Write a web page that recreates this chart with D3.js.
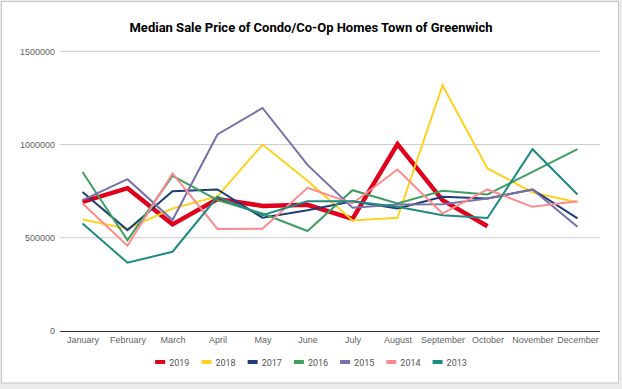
<!DOCTYPE html>
<html>
<head>
<meta charset="utf-8">
<title>Median Sale Price of Condo/Co-Op Homes Town of Greenwich</title>
<script src="https://cdn.jsdelivr.net/npm/d3@7"></script>
<style>
    html, body { margin: 0; padding: 0; background: #ececec; }
    svg { display: block; font-family: Roboto, "Noto Sans", sans-serif; }
</style>
</head>
<body>
<svg id="chart" width="622" height="389"></svg>
<script>
    // values
    var months = ["January", "February", "March", "April", "May", "June", "July",
                  "August", "September", "October", "November", "December"];
    var years = ["2019", "2018", "2017", "2016", "2015", "2014", "2013"];
    var colors = ["#e0001b", "#ffd21f", "#1d3e78", "#3f9e62", "#7671a9", "#ff8a8d", "#1f8a84"];

    var sales2019 = [692000, 766000, 572000, 708000, 671000, 677000, 601000, 1002000, 702000, 562000, null, null];
    var sales2018 = [598000, 548000, 657000, 722000, 1000000, 806000, 593000, 607000, 1318000, 872000, 743000, 690000];
    var sales2017 = [746000, 541000, 750000, 759000, 607000, 648000, 696000, 657000, 720000, 711000, 759000, 604000];
    var sales2016 = [853000, 487000, 832000, 702000, 630000, 536000, 755000, 684000, 752000, 732000, 853000, 975000];
    var sales2015 = [702000, 814000, 595000, 1054000, 1196000, 891000, 661000, 679000, 680000, 710000, 759000, 559000];
    var sales2014 = [684000, 457000, 845000, 547000, 548000, 768000, 684000, 866000, 630000, 759000, 666000, 696000];
    var sales2013 = [577000, 366000, 425000, 720000, 621000, 696000, 696000, 666000, 621000, 606000, 975000, 732000];

    var yTicks = [0, 500000, 1000000, 1500000];

    var series = [sales2019, sales2018, sales2017, sales2016, sales2015, sales2014, sales2013];

    var svg = d3.select("#chart");

    // card
    svg.append("rect")
        .attr("x", 1.5).attr("y", 1.5)
        .attr("width", 617).attr("height", 381.5)
        .attr("fill", "#fff")
        .attr("stroke", "#c4c4c4");

    var margin = {top: 51, right: 22, bottom: 58, left: 60},
        width = 622, height = 389;

    var x = d3.scalePoint()
        .domain(months)
        .range([margin.left, width - margin.right])
        .padding(0.5);

    var y = d3.scaleLinear()
        .domain([0, 1500000])
        .range([331, 51.3]);

    // gridlines
    svg.append("g")
        .selectAll("line")
        .data(yTicks.slice(1))
        .enter()
        .append("line")
        .attr("x1", margin.left).attr("x2", width - margin.right)
        .attr("y1", d => y(d)).attr("y2", d => y(d))
        .attr("stroke", "#cccccc")
        .attr("stroke-width", 1);

    // y axis labels
    var yAxis = g => g
        .attr("transform", `translate(${margin.left},0)`)
        .call(d3.axisLeft(y).tickValues(yTicks).tickFormat(d3.format("d")).tickSize(0).tickPadding(5))
        .call(g => g.select(".domain").remove())
        .call(g => g.selectAll("text").attr("fill", "#5f5f5f").style("font-size", "9px"));

    svg.append("g").call(yAxis);

    // x axis
    var xAxis = g => g
        .attr("transform", `translate(0,${y(0)})`)
        .call(d3.axisBottom(x).tickSize(0).tickPadding(6))
        .call(g => g.select(".domain").attr("stroke", "#333").attr("d", `M${margin.left},0.5H${width - margin.right}`))
        .call(g => g.selectAll("text").attr("fill", "#5f5f5f").style("font-size", "9px"));

    svg.append("g").call(xAxis);

    // lines
    var line = d3.line()
        .defined(d => d != null)
        .x((d, i) => x(months[i]))
        .y(d => y(d));

    svg.append("g")
        .selectAll("path")
        .data(series)
        .enter()
        .append("path")
        .attr("fill", "none")
        .attr("stroke", (d, i) => colors[i])
        .attr("stroke-width", (d, i) => i == 0 ? 4.5 : 2)
        .attr("stroke-linejoin", "miter")
        .attr("d", line);

    // title
    svg.append("text")
        .attr("x", 311)
        .attr("y", 32)
        .attr("text-anchor", "middle")
        .style("font-size", "13px")
        .style("font-weight", "bold")
        .attr("fill", "#000")
        .text("Median Sale Price of Condo/Co-Op Homes Town of Greenwich");

    // legend
    var legend = svg.append("g").attr("transform", "translate(0,362)");
    var items = legend.selectAll("g")
        .data(years)
        .enter()
        .append("g");

    items.append("rect")
        .attr("width", 10).attr("height", 4)
        .attr("y", -2)
        .attr("fill", (d, i) => colors[i]);

    items.append("text")
        .attr("x", 14)
        .attr("y", 3.5)
        .style("font-size", "9px")
        .attr("fill", "#555")
        .text(d => d);

    var pos = 0;
    items.each(function() {
        var w = this.getBBox().width;
        d3.select(this).attr("transform", `translate(${pos},0)`);
        pos += w + 12;
    });
    var total = pos - 12;
    legend.attr("transform", `translate(${311 - total / 2},362)`);
</script>
</body>
</html>
